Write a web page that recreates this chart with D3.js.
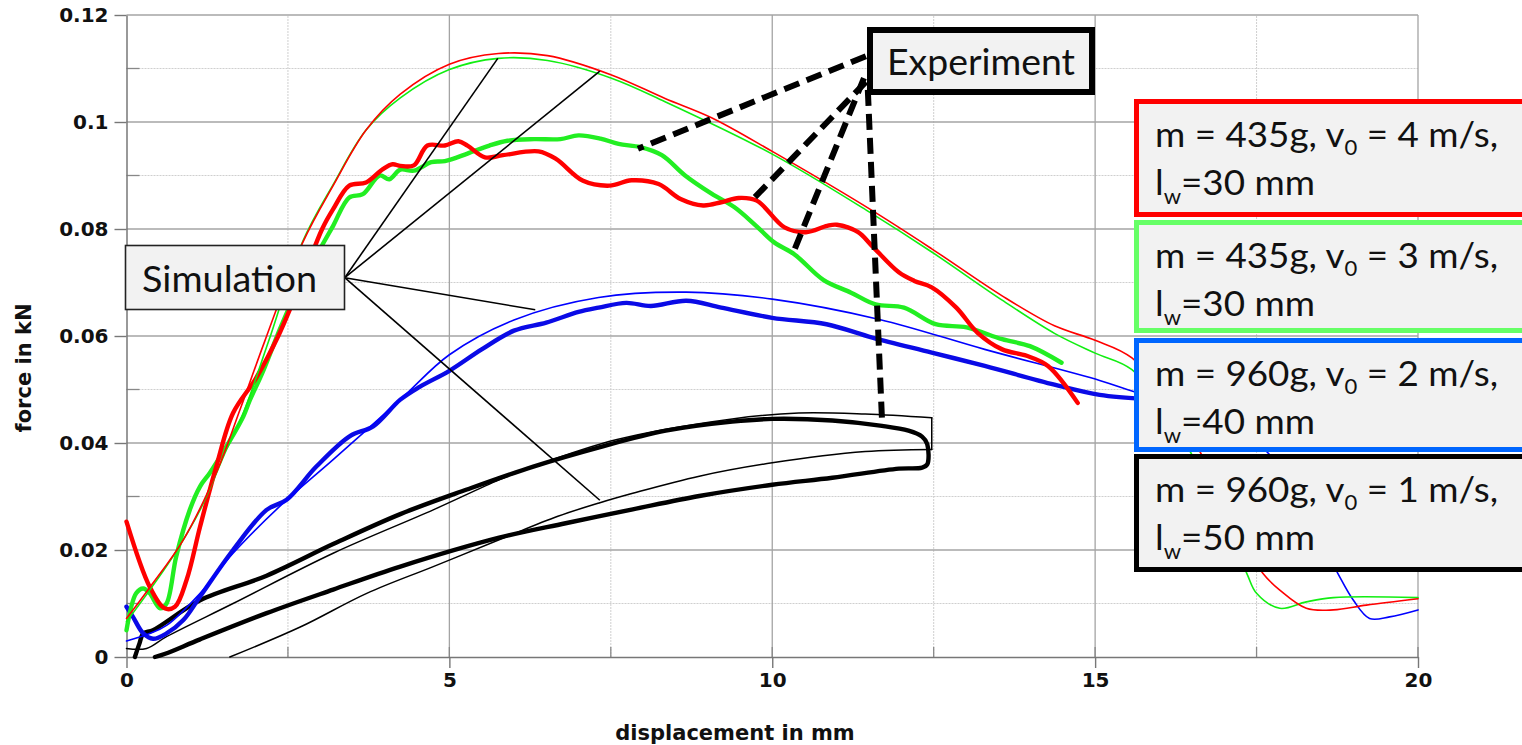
<!DOCTYPE html>
<html>
<head>
<meta charset="utf-8">
<script src="https://cdn.jsdelivr.net/npm/d3@7"></script>
<style>
  html, body { margin: 0; padding: 0; background: #fff; }
  svg { display: block; }
</style>
</head>
<body>
<svg id="chart" width="1522" height="745"></svg>
<script>
// values: [displacement mm, force kN]
const redSim = [[0,0.0072],[0.36,0.013],[0.88,0.0219],[1.39,0.0344],[1.76,0.0463],[2.14,0.059],[2.73,0.0775],[3.2,0.0881],[3.71,0.0985],[4.24,0.1052],[5,0.1108],[5.76,0.1128],[6.52,0.1124],[7.51,0.1088],[8.34,0.1044],[9.06,0.1008],[10,0.0945],[11.5,0.0838],[12.47,0.0763],[13.56,0.0675],[14.37,0.0619],[15,0.0592],[15.57,0.0559],[16.3,0.045],[16.9,0.032],[17.3,0.022],[17.6,0.0156],[17.86,0.0125],[18.27,0.0091],[18.69,0.0088],[19.2,0.0097],[20,0.0109]];
const greenSim = [[0,0.0066],[0.36,0.0125],[0.72,0.0188],[1.14,0.0275],[1.55,0.0388],[1.81,0.0456],[2.2,0.059],[2.73,0.0777],[3.2,0.0883],[3.71,0.0985],[4.24,0.1045],[5,0.1098],[5.76,0.1119],[6.52,0.1115],[7.51,0.1082],[8.34,0.1038],[10,0.094],[11.5,0.0832],[12.47,0.0757],[13.56,0.0667],[14.37,0.0605],[15,0.0568],[15.57,0.0537],[16.3,0.042],[16.9,0.028],[17.35,0.0156],[17.5,0.0119],[17.86,0.0091],[18.27,0.0103],[18.69,0.0111],[20,0.0111]];
const blueSim = [[0,0.003],[0.36,0.0044],[0.62,0.0059],[1.14,0.0119],[1.65,0.0194],[2.43,0.0288],[3.2,0.0369],[4.24,0.0481],[5,0.0565],[6,0.063],[7.31,0.0672],[8.67,0.0682],[10,0.0669],[11.66,0.0631],[13.29,0.0575],[15.07,0.0517],[15.57,0.0497],[16.5,0.046],[17.3,0.042],[17.9,0.035],[18.4,0.024],[18.76,0.0156],[19,0.0106],[19.25,0.0072],[19.56,0.0075],[20,0.0088]];
const blackSimLoad = [[0,0.0016],[0.31,0.0016],[0.62,0.0038],[1.65,0.01],[3.2,0.0194],[4.75,0.0275],[5.77,0.0331],[6.3,0.0356],[7.58,0.0406],[9.38,0.0445],[10.41,0.0456],[11.44,0.0454],[12.47,0.0447]];
const blackSimUnload = [[12.47,0.0388],[11.44,0.0384],[10,0.0363],[8.87,0.0338],[7.84,0.0306],[7.32,0.0288],[6.68,0.0263],[5.79,0.022],[4.75,0.0169],[3.72,0.0119],[2.69,0.0056],[1.6,0]];

const redExp = [[0,0.0253],[0.36,0.0131],[0.59,0.0091],[0.75,0.0094],[0.93,0.0144],[1.14,0.0244],[1.39,0.0356],[1.65,0.0456],[2,0.052],[2.35,0.06],[2.7,0.07],[3.03,0.08],[3.2,0.0837],[3.45,0.0881],[3.71,0.0887],[3.97,0.0912],[4.12,0.0921],[4.24,0.0918],[4.45,0.0919],[4.66,0.0956],[4.93,0.0956],[5.14,0.0964],[5.28,0.0956],[5.55,0.0934],[5.83,0.0938],[6.38,0.0945],[6.65,0.0931],[7.07,0.089],[7.48,0.0881],[7.82,0.0891],[8.24,0.0884],[8.58,0.0856],[8.93,0.0844],[9.21,0.085],[9.48,0.0858],[9.76,0.0853],[10.19,0.0803],[10.52,0.0794],[10.85,0.0806],[11.0,0.0808],[11.33,0.0794],[11.54,0.0769],[11.96,0.0719],[12.2,0.0703],[12.47,0.0691],[12.85,0.0653],[13.18,0.0606],[13.56,0.0575],[13.94,0.0563],[14.27,0.0544],[14.73,0.0475]];
const greenExp = [[0,0.005],[0.15,0.0119],[0.26,0.0128],[0.36,0.0119],[0.52,0.0091],[0.62,0.01],[0.77,0.0188],[0.98,0.0275],[1.14,0.0319],[1.29,0.0344],[1.55,0.0394],[1.81,0.045],[1.91,0.048],[2.1,0.053],[2.4,0.062],[2.7,0.07],[3.04,0.0772],[3.2,0.0806],[3.45,0.0859],[3.66,0.0865],[3.92,0.09],[4.07,0.0893],[4.24,0.0911],[4.45,0.0909],[4.72,0.0925],[4.93,0.0927],[5.28,0.0941],[5.62,0.0956],[5.9,0.0965],[6.31,0.0968],[6.72,0.0968],[7,0.0975],[7.34,0.0969],[7.62,0.0959],[7.96,0.0953],[8.29,0.0938],[8.65,0.09],[9.06,0.0866],[9.41,0.0841],[9.75,0.0806],[10.03,0.0775],[10.35,0.0752],[10.79,0.0705],[11.22,0.0681],[11.6,0.0659],[12.04,0.0653],[12.53,0.0622],[13.01,0.0616],[13.56,0.0594],[13.99,0.0581],[14.48,0.055]];
const blueExp = [[0,0.0094],[0.1,0.0075],[0.26,0.0044],[0.41,0.0034],[0.62,0.0044],[0.88,0.0069],[1.14,0.0113],[1.65,0.02],[2.17,0.0275],[2.48,0.0294],[2.94,0.0356],[3.46,0.0413],[3.82,0.0431],[4.24,0.0481],[4.54,0.0505],[5,0.0535],[5.5,0.0575],[6,0.061],[6.5,0.0625],[7,0.0645],[7.31,0.0653],[7.74,0.0662],[8.12,0.0656],[8.67,0.0666],[9.21,0.0653],[10,0.0634],[10.84,0.0622],[11.55,0.0597],[12.47,0.0569],[13.29,0.0544],[14.37,0.0509],[15.07,0.049],[15.8,0.0482]];
const blackExp = [[0.13,0],[0.2,0.0025],[0.26,0.0044],[0.41,0.005],[1.14,0.0106],[2.17,0.0152],[3.2,0.0211],[4.24,0.0267],[5.27,0.0313],[6.3,0.0356],[7.32,0.0392],[8.35,0.0423],[9.38,0.0440],[10,0.0445],[10.93,0.0442],[11.7,0.0432],[12.11,0.0423],[12.32,0.0412],[12.4,0.0398],[12.4,0.0360],[12.32,0.0354],[11.96,0.0352],[10.93,0.0335],[10,0.0322],[8.87,0.0301],[7.84,0.0276],[6.8,0.025],[5.77,0.0223],[4.24,0.0169],[3.2,0.0126],[2.17,0.0082],[1.14,0.0033],[0.6,0.0006],[0.44,0]];

const xMajor = [0, 5, 10, 15, 20];
const xMinor = [2.5, 7.5, 12.5, 17.5];
const yMajor = [0, 0.02, 0.04, 0.06, 0.08, 0.1, 0.12];
const yMinor = [0.01, 0.03, 0.05, 0.07, 0.09, 0.11];

const legendLabels = [
  {m: "435g", v: "4", lw: "30", color: "#ff0000"},
  {m: "435g", v: "3", lw: "30", color: "#66ff66"},
  {m: "960g", v: "2", lw: "40", color: "#0066ff"},
  {m: "960g", v: "1", lw: "50", color: "#000000"}
];

// annotation pointers, in data units
const simFrom = [3.38, 0.0709];
const simTargets = [[5.75, 0.1119], [7.33, 0.1095], [6.33, 0.0649], [7.33, 0.0293]];
const expPointers = [
  [[11.45, 0.1123], [7.92, 0.095]],
  [[11.45, 0.1075], [9.72, 0.0858]],
  [[11.42, 0.1082], [10.32, 0.0754]],
  [[11.48, 0.1060], [11.70, 0.0442]]
];

const svg = d3.select("#chart");
const x = d3.scaleLinear().domain([0, 20]).range([126.5, 1418]);
const y = d3.scaleLinear().domain([0, 0.12]).range([657, 15]);

const grid = svg.append("g");
grid.selectAll(".gxm").data(xMinor).enter().append("line")
  .attr("x1", d => x(d)).attr("x2", d => x(d)).attr("y1", y(0)).attr("y2", y(0.12))
  .attr("stroke", "#cfcfcf").attr("stroke-width", 1).attr("stroke-dasharray", "2,1");
grid.selectAll(".gym").data(yMinor).enter().append("line")
  .attr("x1", x(0)).attr("x2", x(20)).attr("y1", d => y(d)).attr("y2", d => y(d))
  .attr("stroke", "#cfcfcf").attr("stroke-width", 1).attr("stroke-dasharray", "2,1");
grid.selectAll(".gxM").data(xMajor.slice(1)).enter().append("line")
  .attr("x1", d => x(d)).attr("x2", d => x(d)).attr("y1", y(0)).attr("y2", y(0.12))
  .attr("stroke", "#a4a4a4").attr("stroke-width", 1.3);
grid.selectAll(".gyM").data(yMajor.slice(1)).enter().append("line")
  .attr("x1", x(0)).attr("x2", x(20)).attr("y1", d => y(d)).attr("y2", d => y(d))
  .attr("stroke", "#a4a4a4").attr("stroke-width", 1.3);

// inner ticks
grid.selectAll(".tyi").data(yMinor).enter().append("line")
  .attr("x1", x(0)).attr("x2", x(0) + 13).attr("y1", d => y(d)).attr("y2", d => y(d))
  .attr("stroke", "#888").attr("stroke-width", 1.3);
grid.selectAll(".txi").data(xMinor.concat(xMajor.slice(1))).enter().append("line")
  .attr("x1", d => x(d)).attr("x2", d => x(d)).attr("y1", y(0)).attr("y2", y(0) - 10)
  .attr("stroke", "#888").attr("stroke-width", 1.3);

const yAxis = svg.append("g").attr("transform", `translate(${x(0)},0)`)
  .call(d3.axisLeft(y).tickValues(yMajor).tickSize(12).tickSizeOuter(0).tickPadding(6)
    .tickFormat(d => String(+d.toFixed(2))));
const xAxis = svg.append("g").attr("transform", `translate(0,${y(0)})`)
  .call(d3.axisBottom(x).tickValues(xMajor).tickSize(11).tickSizeOuter(0).tickPadding(5));
[xAxis, yAxis].forEach(a => {
  a.select(".domain").attr("stroke", "#777").attr("stroke-width", 1.5);
  a.selectAll(".tick line").attr("stroke", "#777").attr("stroke-width", 1.4);
  a.selectAll("text").attr("font-family", "DejaVu Sans").attr("font-weight", "bold")
    .attr("font-size", 20).attr("fill", "#111");
});

svg.append("text").attr("x", 735).attr("y", 740).attr("text-anchor", "middle")
  .attr("font-family", "DejaVu Sans").attr("font-weight", "bold").attr("font-size", 21)
  .attr("fill", "#111").text("displacement in mm");
svg.append("text").attr("transform", "translate(31,368) rotate(-90)").attr("text-anchor", "middle")
  .attr("font-family", "DejaVu Sans").attr("font-weight", "bold").attr("font-size", 21)
  .attr("fill", "#111").text("force in kN");

const line = d3.line().x(d => x(d[0])).y(d => y(d[1])).curve(d3.curveCatmullRom.alpha(0.5));
const straight = d3.line().x(d => x(d[0])).y(d => y(d[1]));

const curves = svg.append("g").attr("fill", "none").attr("stroke-linejoin", "round").attr("stroke-linecap", "round");
const drawCurve = (data, color, w, gen) => curves.append("path").datum(data)
  .attr("d", gen || line).attr("stroke", color).attr("stroke-width", w);

// thin simulated loop: smooth branches joined by a straight drop
drawCurve(blackSimLoad, "#000", 1.5);
drawCurve([blackSimLoad[blackSimLoad.length - 1], blackSimUnload[0]], "#000", 1.5, straight);
drawCurve(blackSimUnload, "#000", 1.5);
drawCurve(blackExp, "#000", 4.4);
drawCurve(blueExp, "#0a0ae6", 4.4);
drawCurve(blueSim, "#0000ff", 1.6);
drawCurve(greenExp, "#22ee22", 4.4);
drawCurve(redExp, "#ff0000", 4.4);
drawCurve(greenSim, "#11ee11", 1.6);
drawCurve(redSim, "#ff0000", 1.6);

// annotation lines
const ann = svg.append("g");
ann.selectAll(".sim").data(simTargets).enter().append("line")
  .attr("x1", x(simFrom[0])).attr("y1", y(simFrom[1]))
  .attr("x2", d => x(d[0])).attr("y2", d => y(d[1]))
  .attr("stroke", "#000").attr("stroke-width", 1.6);
ann.selectAll(".exp").data(expPointers).enter().append("line")
  .attr("x1", d => x(d[0][0])).attr("y1", d => y(d[0][1]))
  .attr("x2", d => x(d[1][0])).attr("y2", d => y(d[1][1]))
  .attr("stroke", "#000").attr("stroke-width", 6).attr("stroke-dasharray", "16,8");

// Simulation / Experiment boxes
const simBox = svg.append("g");
simBox.append("rect").attr("x", 125.5).attr("y", 245.5).attr("width", 219).attr("height", 64)
  .attr("fill", "#f2f2f2").attr("stroke", "#222").attr("stroke-width", 1.6);
simBox.append("text").attr("x", 142).attr("y", 292).attr("font-family", "Lato").attr("font-size", 37)
  .attr("fill", "#111").attr("textLength", 175).attr("lengthAdjust", "spacingAndGlyphs").text("Simulation");

const expBox = svg.append("g");
expBox.append("rect").attr("x", 870).attr("y", 30).attr("width", 222).attr("height", 62)
  .attr("fill", "#f2f2f2").attr("stroke", "#000").attr("stroke-width", 6);
expBox.append("text").attr("x", 887).attr("y", 75).attr("font-family", "Lato").attr("font-size", 37)
  .attr("fill", "#111").attr("textLength", 188).attr("lengthAdjust", "spacingAndGlyphs").text("Experiment");

// legend
const boxTops = [99, 220, 338, 454];
const boxBottoms = [217, 333, 452, 572];
const leg = svg.append("g");
legendLabels.forEach((d, i) => {
  const top = boxTops[i], h = boxBottoms[i] - top;
  leg.append("rect").attr("x", 1136.5).attr("y", top + 2.5).attr("width", 420).attr("height", h - 5)
    .attr("fill", "#f2f2f2").attr("stroke", d.color).attr("stroke-width", 5);
  const t1 = leg.append("text").attr("x", 1155).attr("y", top + 48)
    .attr("font-family", "Lato").attr("font-size", 35).attr("fill", "#111")
    .attr("textLength", 343).attr("lengthAdjust", "spacingAndGlyphs");
  t1.append("tspan").text(`m = ${d.m}, v`);
  t1.append("tspan").attr("dy", 8).attr("font-size", 21).text("0");
  t1.append("tspan").attr("dy", -8).text(` = ${d.v} m/s,`);
  const t2 = leg.append("text").attr("x", 1155).attr("y", top + 96)
    .attr("font-family", "Lato").attr("font-size", 35).attr("fill", "#111")
    .attr("textLength", 160).attr("lengthAdjust", "spacingAndGlyphs");
  t2.append("tspan").text("l");
  t2.append("tspan").attr("dy", 9).attr("font-size", 21).text("w");
  t2.append("tspan").attr("dy", -9).text(`=${d.lw} mm`);
});
</script>
</body>
</html>
